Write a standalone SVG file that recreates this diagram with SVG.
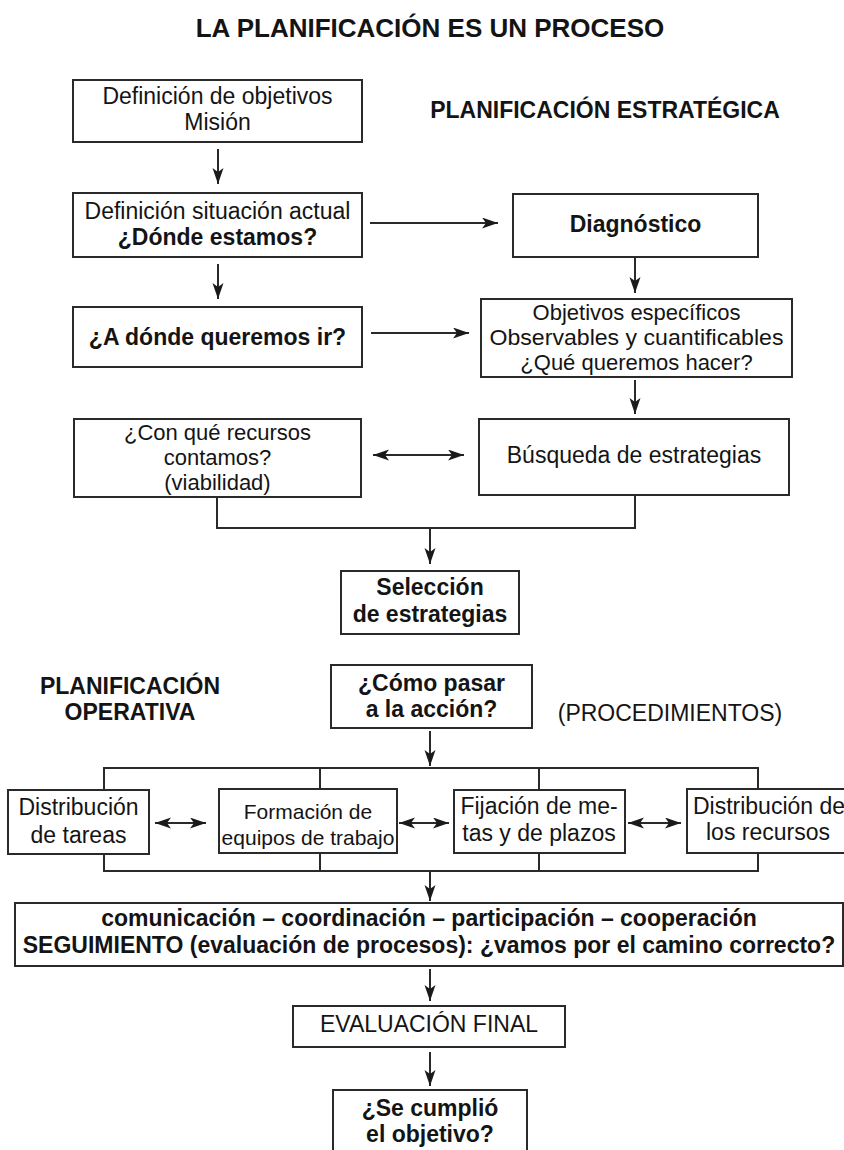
<svg xmlns="http://www.w3.org/2000/svg" width="844" height="1150" viewBox="0 0 844 1150">
<style>
text{font-family:"Liberation Sans",Arial,sans-serif;font-size:23px;fill:#141414;text-anchor:middle}
.b{font-weight:bold}
.s21{font-size:21px}
.s22{font-size:22px}
.box{fill:#fff;stroke:#2a2a2a;stroke-width:2}
.ln{fill:none;stroke:#2a2a2a;stroke-width:2}
.ar{fill:none;stroke:#2a2a2a;stroke-width:2;marker-end:url(#ah)}
.da{fill:none;stroke:#2a2a2a;stroke-width:2;marker-end:url(#ah);marker-start:url(#ah)}
</style>
<defs>
<marker id="ah" markerUnits="userSpaceOnUse" markerWidth="18" markerHeight="14" refX="16" refY="5.5" orient="auto-start-reverse">
<path d="M0,0 L16,5.5 L0,11 L4,5.5 z" fill="#1a1a1a"/>
</marker>
</defs>
<rect width="844" height="1150" fill="#fff"/>
<g id="title"><text class="b" x="430" y="37" style="font-size:26px">LA PLANIFICACIÓN ES UN PROCESO</text></g>
<g id="lbl-estrategica"><text class="b" x="605" y="118">PLANIFICACIÓN ESTRATÉGICA</text></g>
<g id="lbl-operativa"><text class="b" x="130" y="694">PLANIFICACIÓN</text><text class="b" x="130" y="720">OPERATIVA</text></g>
<g id="lbl-proc"><text x="670" y="721">(PROCEDIMIENTOS)</text></g>

<g id="connectors">
<line class="ar" x1="218" y1="149" x2="218" y2="184"/>
<line class="ar" x1="218" y1="264" x2="218" y2="299"/>
<line class="ar" x1="370" y1="223" x2="498" y2="223"/>
<line class="ar" x1="371" y1="333" x2="469" y2="333"/>
<line class="ar" x1="635" y1="258" x2="635" y2="293"/>
<line class="ar" x1="635" y1="380" x2="635" y2="414"/>
<line class="da" x1="373" y1="455" x2="464" y2="455"/>
<path class="ln" d="M217,497 V528 H635 V495"/>
<line class="ar" x1="430" y1="528" x2="430" y2="564"/>
<line class="ar" x1="430" y1="731" x2="430" y2="766"/>
<path class="ln" d="M104,790 V768 H758 V789 M320,768 V789 M539,768 V790"/>
<line class="da" x1="155" y1="823" x2="206" y2="823"/>
<line class="da" x1="399" y1="823" x2="449" y2="823"/>
<line class="da" x1="628" y1="823" x2="681" y2="823"/>
<path class="ln" d="M104,854 V871 H758 V853 M320,853 V871 M539,853 V871"/>
<line class="ar" x1="430" y1="871" x2="430" y2="901"/>
<line class="ar" x1="430" y1="969" x2="430" y2="1001"/>
<line class="ar" x1="430" y1="1052" x2="430" y2="1086"/>
</g>

<g id="n-objetivos"><rect class="box" x="73" y="80" width="289" height="62"/><text x="217.5" y="104">Definición de objetivos</text><text x="217.5" y="130">Misión</text></g>
<g id="n-situacion"><rect class="box" x="73" y="193" width="289" height="64"/><text x="217.5" y="219">Definición situación actual</text><text class="b" x="217.5" y="245">¿Dónde estamos?</text></g>
<g id="n-adonde"><rect class="box" x="73" y="307" width="289" height="60"/><text class="b" x="217.5" y="345">¿A dónde queremos ir?</text></g>
<g id="n-diagnostico"><rect class="box" x="513" y="194" width="245" height="63"/><text class="b" x="635.5" y="232">Diagnóstico</text></g>
<g id="n-especificos"><rect class="box" x="481" y="299" width="311" height="78"/><text class="s22" x="636.5" y="320">Objetivos específicos</text><text class="s22" x="636.5" y="345" textLength="294" lengthAdjust="spacingAndGlyphs">Observables y cuantificables</text><text class="s22" x="636.5" y="370">¿Qué queremos hacer?</text></g>
<g id="n-busqueda"><rect class="box" x="479" y="419" width="310" height="76"/><text x="634" y="463">Búsqueda de estrategias</text></g>
<g id="n-recursos"><rect class="box" x="74" y="419" width="287" height="78"/><text class="s22" x="217.5" y="440">¿Con qué recursos</text><text class="s22" x="217.5" y="465">contamos?</text><text class="s22" x="217.5" y="490">(viabilidad)</text></g>
<g id="n-seleccion"><rect class="box" x="341" y="571" width="178" height="63"/><text class="b" x="430" y="595">Selección</text><text class="b" x="430" y="622">de estrategias</text></g>
<g id="n-como"><rect class="box" x="331" y="665" width="201" height="63"/><text class="b" x="431.5" y="691">¿Cómo pasar</text><text class="b" x="431.5" y="717">a la acción?</text></g>
<g id="n-tareas"><rect class="box" x="8" y="790" width="141" height="64"/><text x="78.5" y="815">Distribución</text><text x="78.5" y="843">de tareas</text></g>
<g id="n-equipos"><rect class="box" x="219" y="789" width="178" height="64"/><text class="s21" x="308" y="819">Formación de</text><text class="s21" x="308" y="845">equipos de trabajo</text></g>
<g id="n-metas"><rect class="box" x="454" y="790" width="171" height="63"/><text x="539" y="814">Fijación de me-</text><text x="539" y="841">tas y de plazos</text></g>
<g id="n-distrec"><rect class="box" x="687" y="789" width="170" height="64"/><text x="769" y="814">Distribución de</text><text x="768" y="840">los recursos</text></g>
<g id="n-seguimiento"><rect class="box" x="15" y="903" width="828" height="63"/><text class="b" x="429" y="926">comunicación – coordinación – participación – cooperación</text><text class="b" x="429" y="953">SEGUIMIENTO (evaluación de procesos): ¿vamos por el camino correcto?</text></g>
<g id="n-evaluacion"><rect class="box" x="293" y="1006" width="272" height="41"/><text x="429" y="1032">EVALUACIÓN FINAL</text></g>
<g id="n-cumplio"><rect class="box" x="333" y="1090" width="194" height="75"/><text class="b" x="430" y="1116">¿Se cumplió</text><text class="b" x="430" y="1142">el objetivo?</text></g>
</svg>
